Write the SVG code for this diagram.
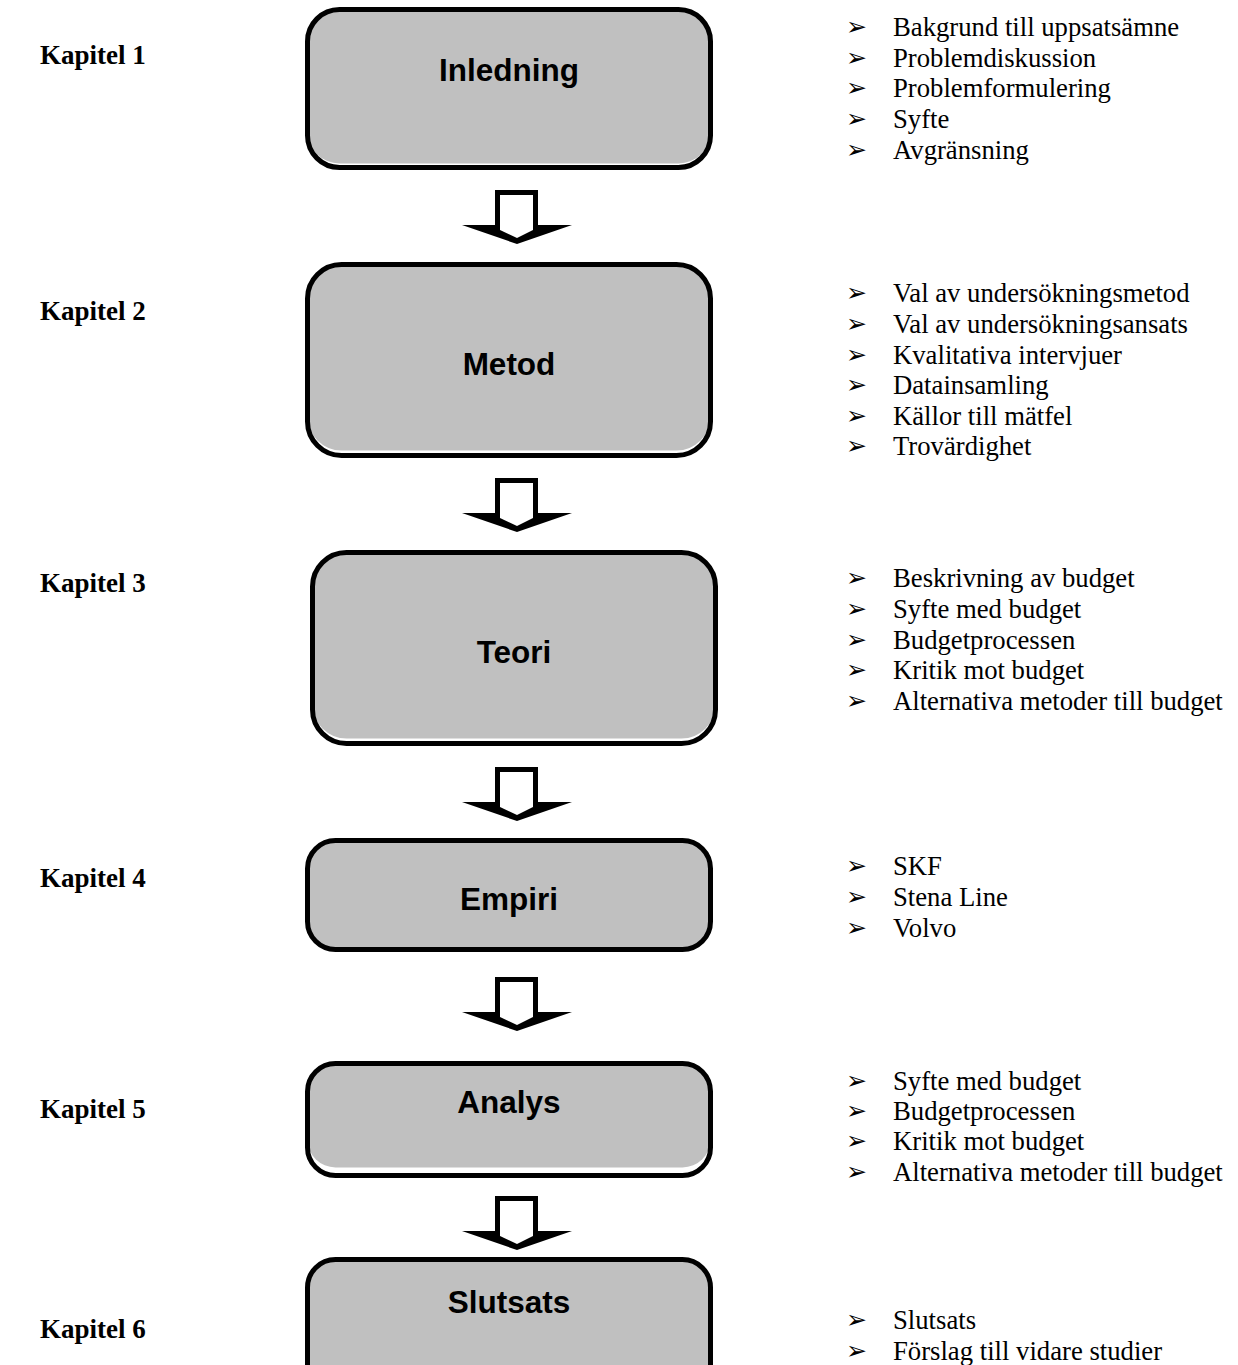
<svg xmlns="http://www.w3.org/2000/svg" width="1238" height="1365" viewBox="0 0 1238 1365">
<style>
.frame{fill:none;stroke:#000;stroke-width:5}
.bg{fill:#fff}
.gray{fill:#c0c0c0}
.box-label{font-family:"Liberation Sans",Arial,sans-serif;font-weight:bold;font-size:31.5px;fill:#000;text-anchor:middle}
.chap{font-family:"Liberation Serif","Times New Roman",serif;font-weight:bold;font-size:27px;fill:#000}
.item{font-family:"Liberation Serif","Times New Roman",serif;font-size:26.7px;fill:#000}
.bul{font-family:"DejaVu Sans",sans-serif;font-size:25px;fill:#000}
</style>
<defs>
<g id="blockarrow">
<polygon points="495,0 538,0 538,35 572,35 517,54 462,35 495,35" fill="#000"/>
<polygon points="500,5 533,5 533,40 517,48 500,40" fill="#fff"/>
</g>
</defs>
<rect width="1238" height="1365" fill="#fff"/>

<g id="chapters">
<text class="chap" x="40" y="64">Kapitel 1</text>
<text class="chap" x="40" y="320">Kapitel 2</text>
<text class="chap" x="40" y="592">Kapitel 3</text>
<text class="chap" x="40" y="887">Kapitel 4</text>
<text class="chap" x="40" y="1118">Kapitel 5</text>
<text class="chap" x="40" y="1338">Kapitel 6</text>
</g>

<g id="node-inledning">
<rect class="bg" x="307.5" y="9.5" width="403" height="158" rx="32"/>
<rect class="gray" x="307.5" y="9.5" width="403" height="154" rx="32"/>
<rect class="frame" x="307.5" y="9.5" width="403" height="158" rx="32"/>
<text class="box-label" x="509" y="81">Inledning</text>
</g>

<g id="node-metod">
<rect class="bg" x="307.5" y="264.5" width="403" height="191" rx="34"/>
<rect class="gray" x="307.5" y="264.5" width="403" height="186" rx="34"/>
<rect class="frame" x="307.5" y="264.5" width="403" height="191" rx="34"/>
<text class="box-label" x="509" y="375">Metod</text>
</g>

<g id="node-teori">
<rect class="bg" x="312.5" y="552.5" width="403" height="191" rx="34"/>
<rect class="gray" x="312.5" y="552.5" width="403" height="186" rx="34"/>
<rect class="frame" x="312.5" y="552.5" width="403" height="191" rx="34"/>
<text class="box-label" x="514" y="663">Teori</text>
</g>

<g id="node-empiri">
<rect class="gray" x="307.5" y="840.5" width="403" height="109" rx="28"/>
<rect class="frame" x="307.5" y="840.5" width="403" height="109" rx="28"/>
<text class="box-label" x="509" y="910">Empiri</text>
</g>

<g id="node-analys">
<rect class="bg" x="307.5" y="1063.5" width="403" height="112" rx="28"/>
<rect class="gray" x="307.5" y="1063.5" width="403" height="104" rx="28"/>
<rect class="frame" x="307.5" y="1063.5" width="403" height="112" rx="28"/>
<text class="box-label" x="509" y="1113">Analys</text>
</g>

<g id="node-slutsats">
<rect class="gray" x="307.5" y="1259.5" width="403" height="140" rx="28"/>
<rect class="frame" x="307.5" y="1259.5" width="403" height="140" rx="28"/>
<text class="box-label" x="509" y="1313">Slutsats</text>
</g>

<g id="connectors">
<use href="#blockarrow" transform="translate(0,190)"/>
<use href="#blockarrow" transform="translate(0,478)"/>
<use href="#blockarrow" transform="translate(0,767)"/>
<use href="#blockarrow" transform="translate(0,977)"/>
<use href="#blockarrow" transform="translate(0,1196)"/>
</g>

<g id="list-1">
<text class="bul" x="846" y="35">➢</text><text class="item" x="893" y="36">Bakgrund till uppsatsämne</text>
<text class="bul" x="846" y="66">➢</text><text class="item" x="893" y="67">Problemdiskussion</text>
<text class="bul" x="846" y="96">➢</text><text class="item" x="893" y="97">Problemformulering</text>
<text class="bul" x="846" y="127">➢</text><text class="item" x="893" y="128">Syfte</text>
<text class="bul" x="846" y="158">➢</text><text class="item" x="893" y="159">Avgränsning</text>
</g>

<g id="list-2">
<text class="bul" x="846" y="301">➢</text><text class="item" x="893" y="302">Val av undersökningsmetod</text>
<text class="bul" x="846" y="332">➢</text><text class="item" x="893" y="333">Val av undersökningsansats</text>
<text class="bul" x="846" y="363">➢</text><text class="item" x="893" y="364">Kvalitativa intervjuer</text>
<text class="bul" x="846" y="393">➢</text><text class="item" x="893" y="394">Datainsamling</text>
<text class="bul" x="846" y="424">➢</text><text class="item" x="893" y="425">Källor till mätfel</text>
<text class="bul" x="846" y="454">➢</text><text class="item" x="893" y="455">Trovärdighet</text>
</g>

<g id="list-3">
<text class="bul" x="846" y="586">➢</text><text class="item" x="893" y="587">Beskrivning av budget</text>
<text class="bul" x="846" y="617">➢</text><text class="item" x="893" y="618">Syfte med budget</text>
<text class="bul" x="846" y="648">➢</text><text class="item" x="893" y="649">Budgetprocessen</text>
<text class="bul" x="846" y="678">➢</text><text class="item" x="893" y="679">Kritik mot budget</text>
<text class="bul" x="846" y="709">➢</text><text class="item" x="893" y="710">Alternativa metoder till budget</text>
</g>

<g id="list-4">
<text class="bul" x="846" y="874">➢</text><text class="item" x="893" y="875">SKF</text>
<text class="bul" x="846" y="905">➢</text><text class="item" x="893" y="906">Stena Line</text>
<text class="bul" x="846" y="936">➢</text><text class="item" x="893" y="937">Volvo</text>
</g>

<g id="list-5">
<text class="bul" x="846" y="1089">➢</text><text class="item" x="893" y="1090">Syfte med budget</text>
<text class="bul" x="846" y="1119">➢</text><text class="item" x="893" y="1120">Budgetprocessen</text>
<text class="bul" x="846" y="1149">➢</text><text class="item" x="893" y="1150">Kritik mot budget</text>
<text class="bul" x="846" y="1180">➢</text><text class="item" x="893" y="1181">Alternativa metoder till budget</text>
</g>

<g id="list-6">
<text class="bul" x="846" y="1328">➢</text><text class="item" x="893" y="1329">Slutsats</text>
<text class="bul" x="846" y="1359">➢</text><text class="item" x="893" y="1360">Förslag till vidare studier</text>
</g>
</svg>
